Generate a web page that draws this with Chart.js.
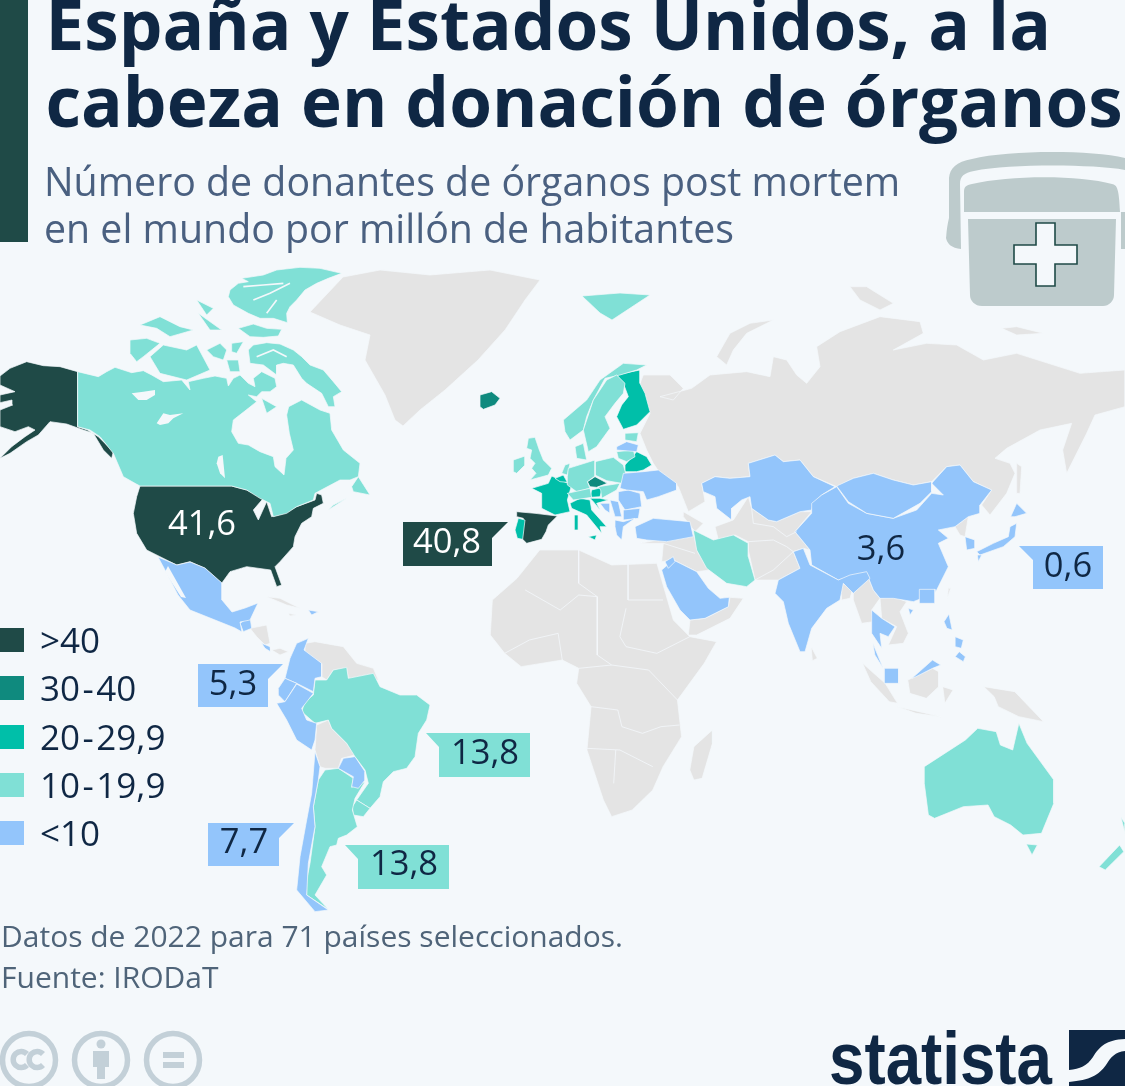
<!DOCTYPE html>
<html lang="es">
<head>
<meta charset="utf-8">
<title>Donación de órganos</title>
<script src="https://cdn.jsdelivr.net/npm/chart.js@4"></script>
<style>
  html, body { margin: 0; background: #f4f8fb; }
  #page { position: relative; width: 1125px; height: 1086px; overflow: hidden; font-family: "Open Sans", sans-serif; }
  #map { position: absolute; left: 0; top: 0; }
  #bar { position: absolute; left: 0; top: 0; width: 28px; height: 242px; background: #1f4a47; }
  .t { position: absolute; white-space: nowrap; margin: 0; }
  .title { left: 45.5px; font-size: 69.2px; font-weight: 700; color: #0f2744; line-height: 76px; }
  .sub { left: 44px; font-size: 39.3px; color: #4a6080; line-height: 46px; }
  .foot { left: 1px; font-size: 30px; color: #4f6479; line-height: 41px; }
  .leg { left: 40px; font-size: 35px; color: #0f2744; line-height: 44px; }
  .leg span { margin: 0 2.5px; }
  .sw { position: absolute; left: 0; width: 24px; height: 24px; }
  svg { position: absolute; }
</style>
</head>
<body>
<div id="page">
  <canvas id="map" width="1125" height="1086"></canvas>
  <div id="bar"></div>
  <h1 class="t title" style="top:-15px">España y Estados Unidos, a la</h1>
  <h1 class="t title" style="top:62px">cabeza en donación de órganos</h1>
  <div class="t sub" style="top:158px">Número de donantes de órganos post mortem</div>
  <div class="t sub" style="top:205px">en el mundo por millón de habitantes</div>
  <div class="t foot" style="top:915px">Datos de 2022 para 71 países seleccionados.</div>
  <div class="t foot" style="top:956px">Fuente: IRODaT</div>
  <div id="legend"></div>

  <svg style="left:900px;top:140px" width="225" height="180" viewBox="0 0 225 180">
    <path d="M46 108 C46 100 46 90 49 78 L49 38 C50 28 56 22 72 19 C110 10 190 10 225 18 L225 30 C190 24 110 24 74 31 C64 33 60 36 60 44 L61 109 C52 108 46 104 46 96 Z" fill="#bdcbcc"/>
    <path d="M225 72 L221 72 L221 109 L225 109 Z" fill="#bdcbcc"/>
    <path d="M64 72 L64 52 C64 47 66 45 72 44 C110 35 180 35 212 44 C217 45 219 48 220 72 Z" fill="#bdcbcc"/>
    <path d="M68 79 L216 79 L214 155 C214 161 209 166 203 166 L82 166 C75 166 70 161 70 155 Z" fill="#bdcbcc"/>
    <path d="M136 83 L155 83 L155 105 L177 105 L177 124 L155 124 L155 146 L136 146 L136 124 L114 124 L114 105 L136 105 Z" fill="#f4f8fb" stroke="#1f4a47" stroke-width="1.6"/>
  </svg>

  <svg style="left:0;top:1010px" width="220" height="76" viewBox="0 0 220 76">
    <g fill="none" stroke="#c3d0d8" stroke-width="5.5">
      <circle cx="29" cy="50" r="26.5"/><circle cx="101" cy="50" r="26.5"/><circle cx="173" cy="50" r="26.5"/>
      <path d="M27 44 A8 8 0 1 0 27 55 M43 44 A8 8 0 1 0 43 55"/>
    </g>
    <g fill="#c3d0d8">
      <circle cx="101" cy="34" r="4.5"/>
      <path d="M93 41 L109 41 L109 57 L105 57 L105 69 L97 69 L97 57 L93 57 Z"/>
      <rect x="163" y="42" width="21" height="6"/><rect x="163" y="52" width="21" height="6"/>
    </g>
  </svg>

  <svg style="left:810px;top:1010px" width="315" height="76" viewBox="0 0 315 76">
    <text x="19" y="74" font-family="Liberation Sans Narrow, Liberation Sans" font-weight="700" font-size="74" fill="#0f2744" textLength="223" lengthAdjust="spacingAndGlyphs">statista</text>
    <path d="M259 20 L315 20 L315 29 C296 30 290 36 283 47 C277 56 270 59 259 60 Z" fill="#0f2744"/>
    <path d="M315 41 C305 42 301 47 296 55 C289 65 280 70 259 72 L259 76 L315 76 Z" fill="#0f2744"/>
  </svg>
</div>

<script>
// ----- data -----
const CATEGORIES = [">40", "30-40", "20-29,9", "10-19,9", "<10"];
const COLORS = ["#1f4a47", "#0f8a7e", "#00bfa9", "#80e0d6", "#93c5fb"];
const GREY = "#e4e4e4";
const BG = "#f4f8fb";
const INK = "#0f2744";

const LABEL_VALUES = ["41,6", "40,8", "3,6", "0,6", "5,3", "7,7", "13,8", "13,8"];
const LABEL_X = [202, 447, 881, 1068, 233, 244, 485, 404];
const LABEL_Y = [525, 543, 550, 567, 685, 843, 754, 865];
const LABEL_COLORS = ["#ffffff", "#ffffff", INK, INK, INK, INK, INK, INK];

// callout flags, map units
const calloutSpain = [403,522, 508,522, 492,538, 492,566, 403,566];
const calloutJapan = [1019,546, 1103,546, 1103,589, 1033,589, 1033,560];
const calloutColombia = [198,664, 283,664, 268,679, 268,707, 198,707];
const calloutChile = [208,823, 294,823, 279,838, 279,866, 208,866];
const calloutBrazil = [426,733, 530,733, 530,777, 439,777, 439,747];
const calloutArgentina = [345,845, 449,845, 449,889, 358,889, 358,859];

const PX = [0, 0, 1, 1], NA = [0, 250, 3, 3], EU = [480, 350, 3, 3], SA = [200, 580, 3, 3], AS = [640, 260, 3, 3], AF = [480, 540, 2.431, 3];

const alaska = [0,378, 30,355, 80,335, 130,347, 180,350, 233,365, 233,530, 262,540, 295,560, 340,605, 335,625, 310,600, 280,550, 250,540, 200,522, 150,515, 115,555, 80,575, 30,610, 0,625, 35,590, 75,560, 105,540, 85,530, 45,545, 0,530, 0,480, 38,465, 36,450, 0,458, 0,435, 45,425, 0,405];
const canada = [233,365, 295,380, 320,365, 345,352, 395,368, 430,362, 455,375, 490,395, 545,390, 570,420, 565,395, 610,385, 645,378, 680,385, 685,408, 700,385, 720,375, 745,400, 765,410, 760,385, 785,365, 825,385, 830,410, 810,425, 785,425, 770,440, 745,435, 770,455, 745,475, 700,510, 695,545, 715,580, 745,585, 780,605, 820,620, 825,650, 852,675, 858,625, 880,600, 868,550, 860,495, 866,470, 905,450, 960,480, 990,490, 995,540, 1030,600, 1080,640, 1075,680, 1050,690, 1020,690, 945,730, 940,750, 890,770, 860,790, 820,800, 810,760, 780,745, 740,720, 695,708, 420,708, 405,700, 370,680, 340,610, 300,560, 270,540, 233,530];
const bearLake = [395,430, 430,425, 465,420, 465,435, 440,450, 415,450];
const slaveLake = [470,520, 490,490, 510,495, 550,490, 520,505, 505,520, 480,525];
const winnipeg = [655,620, 668,615, 675,685, 660,670, 650,640];
const ellesmere = [690,120, 715,100, 745,95, 725,85, 790,75, 830,60, 900,52, 960,55, 1025,70, 985,85, 950,100, 915,120, 890,150, 870,170, 860,190, 862,218, 820,205, 780,205, 745,190, 700,165, 685,140];
const devon = [715,235, 760,222, 800,235, 845,238, 835,258, 790,262, 750,260];
const banks = [390,270, 440,265, 480,280, 430,320, 410,335, 390,310];
const victoria = [450,320, 490,285, 560,300, 590,285, 630,360, 560,390, 480,370];
const melville = [420,225, 480,200, 540,230, 580,240, 510,260, 470,235];
const bathurst = [590,150, 640,175, 620,195];
const cornwallis = [595,190, 665,240, 630,240];
const somerset = [620,300, 660,280, 680,300, 670,330, 640,320];
const prince = [695,280, 730,275, 710,310, 695,305];
const kingWilliam = [680,330, 715,330, 720,365, 690,365];
const baffin = [745,300, 760,285, 800,278, 840,282, 880,300, 905,320, 930,345, 970,360, 1000,395, 1025,425, 1000,440, 1005,470, 985,470, 965,430, 920,400, 905,385, 880,345, 850,340, 830,345, 830,375, 790,345, 750,340];
const southampton = [785,445, 830,470, 800,490];
const newfoundland = [1055,710, 1075,680, 1110,735, 1060,725];
const novaScotia = [985,780, 1040,745, 1000,765];
const usa = [420,708, 695,708, 740,720, 790,745, 760,780, 775,810, 800,755, 815,800, 850,790, 890,770, 945,750, 950,730, 965,735, 970,760, 940,775, 935,800, 905,820, 885,860, 880,890, 840,935, 825,950, 845,1005, 830,1010, 812,960, 740,950, 690,965, 665,1000, 615,955, 570,935, 530,945, 480,920, 440,900, 410,850, 400,790, 410,740];
const greenland = [343,277, 380,270, 430,275, 490,270, 540,280, 525,300, 505,330, 478,360, 445,390, 420,410, 403,426, 395,420, 385,395, 365,360, 370,335, 340,325, 310,312];

const mexico = [158,557, 177,565, 190,562, 205,568, 222,583, 222,600, 232,612, 245,608, 258,603, 250,620, 240,622, 242,632, 235,628, 225,624, 205,616, 190,610, 178,595, 165,570];
const caliGulf = [168,566, 186,598, 181,597, 165,572];
const guatemala = [120,130, 150,110, 155,145, 130,155];
const honduras = [150,145, 200,135, 210,190, 195,195, 170,170];
const costaRica = [185,190, 210,200, 212,215, 195,205];
const panama = [215,210, 240,205, 265,215, 240,225];
const cuba = [200,50, 240,55, 300,85, 260,75];
const haiti = [265,100, 290,105, 270,108];
const dominicana = [325,90, 355,95, 335,105];
const colombia = [325,175, 312,210, 365,250, 365,290, 345,295, 340,335, 290,310, 255,295, 270,235, 290,190];
const ecuador = [255,295, 290,310, 255,365, 235,345, 235,325];
const peru = [290,312, 340,340, 305,385, 320,420, 350,430, 345,480, 335,510, 290,480, 260,420, 230,370, 255,365];
const venezuela = [315,190, 345,185, 430,200, 470,250, 520,265, 535,300, 445,295, 440,265, 400,270, 380,300, 365,290, 365,250, 315,215];
const brazil = [345,300, 380,300, 400,270, 440,262, 445,295, 520,280, 540,320, 600,345, 650,345, 690,375, 680,420, 655,460, 645,530, 620,565, 580,575, 550,605, 540,650, 510,685, 470,660, 505,610, 495,570, 465,530, 440,490, 395,445, 385,420, 345,430, 305,395, 315,365, 340,345];
const bolivia = [350,435, 385,420, 395,445, 440,490, 465,525, 425,535, 415,565, 375,565, 360,560, 345,510];
const paraguay = [430,535, 465,530, 495,575, 495,600, 475,625, 455,620, 460,590, 415,565];
const uruguay = [470,660, 510,685, 490,710, 460,705, 457,680];
const argentina = [375,570, 415,565, 460,595, 455,622, 495,605, 465,655, 457,690, 472,740, 440,765, 415,775, 410,795, 390,800, 365,860, 380,885, 345,945, 385,988, 320,945, 320,900, 330,850, 345,740, 340,680, 355,600];
const chile = [345,515, 360,560, 355,600, 340,680, 345,740, 325,850, 320,945, 385,990, 345,995, 290,930, 300,830, 320,720, 335,640];

const iceland = [0,135, 35,125, 60,145, 45,165, 10,178, 0,170];
const spain = [110,485, 165,490, 232,498, 205,525, 198,545, 185,568, 140,580, 125,565, 130,505, 110,500];
const portugal = [105,540, 115,505, 135,510, 128,568, 112,565];
const france = [215,378, 275,405, 262,450, 270,485, 225,495, 185,475, 185,430, 155,415, 205,400];
const italy = [270,460, 300,445, 330,450, 335,480, 380,530, 360,530, 365,550, 320,495, 275,475];
const sicily = [325,560, 350,555, 345,570];
const sardinia = [283,495, 295,495, 295,540, 283,540];
const belgium = [225,385, 250,375, 262,397, 240,395];
const netherlands = [245,370, 255,345, 270,340, 262,375];
const britain = [145,265, 165,262, 178,300, 190,330, 215,355, 205,375, 150,390, 168,370, 155,355, 165,340, 150,325, 155,300, 140,295];
const ireland = [100,330, 135,318, 135,345, 110,370, 100,365];
const norway = [250,210, 320,150, 360,90, 430,40, 500,45, 470,60, 420,75, 375,85, 340,150, 320,200, 310,240, 270,270, 255,245];
const sweden = [380,90, 410,75, 435,100, 430,130, 405,160, 375,200, 390,235, 350,290, 325,305, 310,240, 340,150];
const finland = [410,75, 455,65, 480,60, 480,100, 495,130, 510,185, 470,225, 430,238, 410,200, 425,165, 445,140, 430,100];
const denmark = [285,290, 310,280, 320,330, 290,325];
const estonia = [435,250, 475,248, 470,275, 435,270];
const latvia = [410,290, 440,275, 475,285, 470,305, 410,300];
const lithuania = [410,305, 460,300, 465,320, 440,335, 415,325];
const belarus = [435,345, 470,305, 500,320, 515,345, 490,360, 470,365, 435,365];
const poland = [345,335, 400,322, 430,345, 437,370, 425,400, 380,392, 345,375];
const germany = [265,355, 345,330, 345,378, 322,395, 330,415, 290,425, 262,405, 262,380];
const czechia = [322,395, 345,380, 382,400, 350,412, 330,410];
const austria = [262,430, 330,415, 335,442, 280,450];
const hungary = [335,420, 368,412, 360,440, 330,442];
const slovakia = [355,410, 420,400, 410,420, 365,445, 362,420];
const croatia = [330,445, 360,445, 385,450, 350,460, 360,480, 340,455];
const romania = [415,425, 445,420, 480,430, 485,470, 435,480, 415,450];
const ukraine = [430,370, 490,365, 535,360, 590,400, 590,420, 535,440, 500,450, 490,425, 440,420, 420,415];
const bulgaria = [430,480, 480,475, 475,505, 430,510];
const serbia = [390,450, 415,455, 425,500, 405,500];
const bosnia = [360,460, 390,460, 390,490, 375,480];
const greece = [405,510, 430,515, 465,505, 430,530, 425,570, 410,555, 405,530];
const turkey = [465,530, 520,505, 630,515, 640,560, 560,575, 500,570, 470,565];
const iran = [640,540, 670,555, 700,570, 760,555, 805,580, 805,620, 825,690, 800,710, 740,700, 680,655, 650,600];
const svalbard = [582,296, 620,293, 650,295, 612,320, 600,313];

const russia = [10,345, 90,345, 130,385, 100,420, 60,410, 155,385, 210,345, 320,335, 390,350, 400,290, 440,300, 470,345, 500,370, 540,320, 530,260, 600,215, 720,170, 840,185, 850,220, 760,270, 860,250, 950,255, 1030,300, 1130,280, 1320,340, 1455,330, 1455,440, 1365,465, 1340,520, 1280,640, 1268,570, 1295,490, 1200,510, 1100,565, 1065,595, 1110,610, 1125,640, 1100,700, 1050,765, 1025,735, 1055,690, 1000,665, 960,615, 920,620, 875,665, 820,675, 760,660, 700,640, 640,655, 590,680, 520,650, 480,600, 430,605, 405,585, 325,610, 330,650, 270,655, 225,650, 185,670, 190,695, 195,725, 145,755, 115,680, 60,640, 40,610, 20,570, 0,520, 30,460, 0,370];
const novaya = [230,290, 270,220, 330,190, 400,180, 320,220, 280,270, 260,315];
const franzJosef = [630,80, 680,80, 760,130, 720,150, 660,120];
const newSiberia = [1085,205, 1130,200, 1210,220, 1130,225];
const sakhalin = [1130,610, 1145,620, 1140,700, 1130,700];
const centralAsia = [280,780, 325,710, 335,745, 385,780, 410,785, 480,755, 515,755, 465,815, 510,870, 490,865, 460,875, 480,925, 415,960, 345,960, 325,870, 325,845, 285,825, 235,840, 225,800];
const caucasus = [130,755, 190,790, 165,815, 130,770];
const iraq = [0,850, 160,820, 175,880, 210,930, 170,935, 100,900, 65,905, 70,850];
const oman = [150,1080, 195,1075, 265,1040, 270,1012, 310,1015, 270,1075, 170,1125, 145,1125];
const myanmar = [640,1000, 685,950, 700,990, 720,1015, 695,1050, 700,1085, 665,1090, 640,1020];
const bangladesh = [600,970, 640,980, 630,1015, 605,1020];
const nepal = [515,920, 595,960, 590,965, 520,945];
const indochina = [720,1015, 760,1010, 800,1025, 780,1055, 805,1120, 790,1150, 745,1155, 770,1100, 725,1075];
const northKorea = [945,800, 985,770, 975,830, 960,825];
const taiwan = [925,985, 932,985, 922,1015];

const kazakhstan = [185,670, 225,650, 270,655, 330,650, 325,610, 405,585, 430,605, 480,600, 520,650, 585,680, 545,705, 520,730, 515,750, 480,755, 410,785, 385,780, 335,745, 330,710, 305,720, 275,745, 275,780, 230,745, 225,710, 190,695];
const mongolia = [590,678, 640,655, 700,640, 760,660, 820,675, 875,665, 875,695, 840,730, 760,775, 680,760, 625,725];
const china = [590,680, 625,730, 680,760, 760,775, 830,750, 875,700, 910,705, 875,670, 920,620, 960,615, 1000,665, 1055,690, 1020,735, 1020,760, 985,770, 945,800, 895,810, 925,835, 895,850, 925,920, 885,1000, 820,1025, 760,1015, 720,1015, 700,990, 680,940, 630,950, 595,960, 515,915, 510,870, 465,815, 515,760, 515,730, 545,705];
const hongKong = [838,988, 885,988, 885,1030, 838,1030];
const india = [460,875, 490,865, 510,915, 595,960, 630,945, 680,935, 690,955, 640,1000, 610,970, 600,1020, 560,1045, 515,1105, 495,1175, 480,1175, 445,1090, 430,1025, 405,1000, 415,960, 480,925];
const thailand = [695,1050, 725,1075, 765,1100, 745,1130, 720,1120, 725,1165, 695,1120];
const hainan = [805,1045, 820,1050, 810,1065];
const southKorea = [975,830, 1005,840, 1005,865, 980,870];
const honshu = [1110,800, 1130,790, 1125,830, 1090,860, 1020,885, 1010,875, 1060,850, 1105,830];
const hokkaido = [1130,730, 1160,760, 1125,770, 1112,770];
const kyushu = [1012,885, 1025,885, 1015,905];
const saudi = [65,930, 100,900, 170,935, 205,985, 240,1015, 268,1012, 265,1040, 195,1075, 150,1080, 120,1050, 80,980];
const jordan = [75,905, 100,890, 105,905, 85,925];

const africa = [90,115, 145,30, 240,30, 320,75, 430,70, 470,240, 510,290, 575,305, 545,370, 480,480, 490,590, 445,680, 420,750, 370,810, 320,830, 300,780, 260,630, 270,500, 235,430, 240,385, 200,360, 100,380, 60,340, 25,285, 30,180];
const madagascar = [565,570, 565,610, 540,715, 520,720, 510,690, 520,620];
const sriLanka = [805,320, 820,355, 808,362];
const sumatra = [930,370, 985,430, 1015,490, 995,485, 950,425];
const java = [1015,500, 1120,530, 1060,520];
const borneo = [1040,420, 1100,385, 1115,395, 1115,440, 1085,475, 1045,460];
const sulawesi = [1125,440, 1150,450, 1130,490];
const papua = [1225,440, 1300,455, 1370,545, 1310,530, 1260,500, 1250,470];
const malaysiaEast = [1050,415, 1100,360, 1120,375, 1100,385, 1060,410];
const malaya = [955,310, 975,370, 980,385, 960,345];
const singapore = [983,385, 1018,385, 1018,430, 983,430];
const luzon = [1140,222, 1148,270, 1135,265, 1128,245];
const visayas = [1155,290, 1175,300, 1170,325, 1155,320];
const mindanao = [1165,335, 1180,350, 1175,365, 1155,350];
const australia = [1080,680, 1180,600, 1210,565, 1255,575, 1265,615, 1295,630, 1310,550, 1330,610, 1395,720, 1395,790, 1365,880, 1320,885, 1290,855, 1250,830, 1235,795, 1175,800, 1105,835, 1090,825, 1080,730];
const tasmania = [1328,912, 1355,915, 1342,945];
const nzSouth = [1505,980, 1555,915, 1565,935, 1520,990];
const nzNorth = [1558,832, 1568,850, 1568,880, 1562,850];

const africaBorders = [
  [240,30, 240,130, 285,170, 285,300],
  [360,70, 360,180, 445,180],
  [195,210, 110,150],
  [195,210, 240,165, 285,170],
  [355,205, 340,290, 355,320, 430,340, 510,290],
  [240,385, 320,375, 410,390, 480,480],
  [285,300, 285,345, 320,375],
  [260,625, 340,630, 420,680],
  [330,630, 325,730],
  [270,500, 335,510, 345,560, 395,580, 440,560, 485,555],
  [60,340, 120,300, 190,280, 200,360],
];
const asiaBorders = [
  [335,745, 340,790, 400,800, 440,830, 470,815],
  [325,845, 400,840, 440,860, 460,875],
  [345,960, 400,930, 460,875],
  [70,850, 165,880],
];
const arcticChannels = [
  [730,110, 790,105, 850,100],
  [760,150, 810,130, 870,100],
  [800,190, 830,150],
  [770,320, 820,300, 860,320],
];

// order is paint order, bottom first
const LAYERS = [
  [GREY, PX, [greenland]],
  [GREY, AS, [russia, novaya, franzJosef, newSiberia, sakhalin, centralAsia, caucasus, iraq, oman, myanmar, bangladesh, nepal, indochina, northKorea, taiwan]],
  [GREY, AF, [africa, madagascar, sriLanka, sumatra, java, borneo, sulawesi, papua]],
  [GREY, SA, [honduras, panama, cuba, haiti, venezuela, bolivia]],
  [COLORS[0], NA, [alaska, usa]],
  [COLORS[0], EU, [spain]],
  [COLORS[1], EU, [iceland, czechia]],
  [COLORS[2], EU, [portugal, france, italy, sicily, sardinia, belgium, finland, belarus, hungary, croatia]],
  [COLORS[3], NA, [canada, ellesmere, devon, banks, victoria, melville, bathurst, cornwallis, somerset, prince, kingWilliam, baffin, southampton, newfoundland, novaScotia]],
  [COLORS[3], SA, [brazil, uruguay, argentina]],
  [COLORS[3], EU, [netherlands, britain, ireland, norway, sweden, denmark, estonia, lithuania, poland, germany, austria, slovakia, iran]],
  [COLORS[3], PX, [svalbard]],
  [COLORS[3], AF, [australia, tasmania, nzSouth, nzNorth]],
  [COLORS[4], SA, [guatemala, costaRica, dominicana, colombia, ecuador, peru, paraguay, chile]],
  [COLORS[4], PX, [mexico]],
  [COLORS[4], EU, [latvia, romania, ukraine, bulgaria, serbia, bosnia, greece, turkey]],
  [COLORS[4], AS, [kazakhstan, china, mongolia, hongKong, india, thailand, hainan, southKorea, honshu, hokkaido, kyushu, saudi, jordan]],
  [COLORS[4], AF, [malaysiaEast, malaya, singapore, luzon, visayas, mindanao]],
  [BG, NA, [bearLake, slaveLake, winnipeg]],
  [BG, PX, [caliGulf]],
];
const CALLOUTS = [
  [COLORS[0], calloutSpain], [COLORS[4], calloutJapan], [COLORS[4], calloutColombia],
  [COLORS[4], calloutChile], [COLORS[3], calloutBrazil], [COLORS[3], calloutArgentina],
];

// ----- helpers -----
function toPoints(flat, o) {
  const pts = [];
  for (let i = 0; i < flat.length; i += 2) {
    pts.push({ x: o[0] + flat[i] / o[2], y: o[1] + flat[i + 1] / o[3] });
  }
  return pts;
}

function polygon(flat, origin, color, border) {
  const pts = toPoints(flat, origin);
  pts.push(pts[0]);
  return {
    data: pts,
    showLine: true, fill: "shape", tension: 0, pointRadius: 0,
    backgroundColor: color,
    borderColor: border || color,
    borderWidth: border ? 0.7 : 0,
  };
}

function borderLine(flat, origin, width) {
  return { data: toPoints(flat, origin), showLine: true, fill: false, tension: 0, pointRadius: 0, borderColor: BG, borderWidth: width };
}

const datasets = [];
LAYERS.forEach(([color, origin, shapes]) => {
  const border = color === BG ? null : BG;
  shapes.forEach(s => datasets.push(polygon(s, origin, color, border)));
});
africaBorders.forEach(b => datasets.push(borderLine(b, AF, 0.8)));
asiaBorders.forEach(b => datasets.push(borderLine(b, AS, 0.8)));
arcticChannels.forEach(b => datasets.push(borderLine(b, NA, 1.6)));
CALLOUTS.forEach(([color, flat]) => datasets.push(polygon(flat, PX, color)));

// ----- value labels -----
const valueLabels = {
  id: "valueLabels",
  afterDraw(chart) {
    const { ctx, scales } = chart;
    ctx.save();
    ctx.font = "34.5px 'Open Sans'";
    ctx.textAlign = "center";
    ctx.textBaseline = "middle";
    LABEL_VALUES.forEach((v, i) => {
      ctx.fillStyle = LABEL_COLORS[i];
      ctx.fillText(v, scales.x.getPixelForValue(LABEL_X[i]), scales.y.getPixelForValue(LABEL_Y[i]));
    });
    ctx.restore();
  },
};

// chart.js paints the last dataset first, so flip it
new Chart(document.getElementById("map"), {
  type: "scatter",
  data: { datasets: datasets.reverse() },
  options: {
    responsive: false,
    animation: false,
    layout: { padding: 0 },
    scales: {
      x: { display: false, min: 0, max: 1125 },
      y: { display: false, min: 0, max: 1086, reverse: true },
    },
    plugins: { legend: { display: false }, tooltip: { enabled: false } },
    events: [],
  },
  plugins: [valueLabels],
});

// ----- legend -----
const legendEl = document.getElementById("legend");
CATEGORIES.forEach((c, i) => {
  const top = 628 + i * 48.3;
  const text = c.replace("<", "&lt;").replace("-", "<span>-</span>");
  legendEl.insertAdjacentHTML("beforeend",
    `<div class="sw" style="top:${top}px;background:${COLORS[i]}"></div>` +
    `<div class="t leg" style="top:${top - 10}px">${text}</div>`);
});
</script>
</body>
</html>
